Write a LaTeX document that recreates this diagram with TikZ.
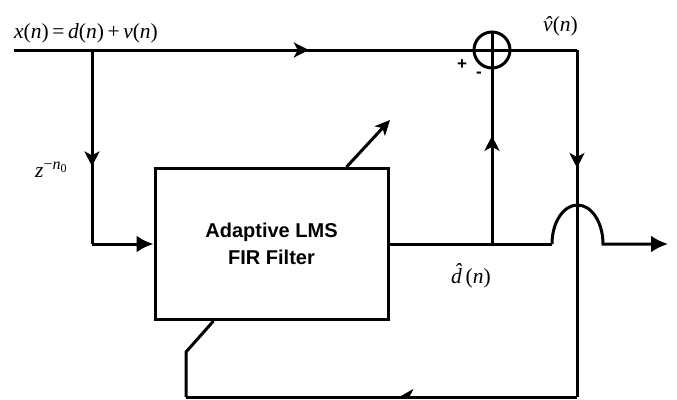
\documentclass[tikz,border=0pt]{standalone}
\usepackage{fontspec}
\setmainfont{Liberation Serif}
\newfontfamily\sansb{Liberation Sans}
\usetikzlibrary{arrows.meta,decorations.markings,calc}
\newcommand\ihat[3]{\ooalign{\textit{#1}\cr\hidewidth\kern#3\raisebox{#2}{\textit{ˆ}}\hidewidth\cr}}
\begin{document}
\begin{tikzpicture}[x=1pt,y=1pt,
  wire/.style={line width=3pt},
  midarr/.style={postaction={decorate,decoration={markings,
     mark=at position #1 with {\arrow{Stealth[length=15pt,width=15pt,inset=4pt]}}}}},
  harp/.style={postaction={decorate,decoration={markings,
     mark=at position #1 with {\arrow{Stealth[length=14pt,width=16pt,inset=4pt,harpoon,swap]}}}}},
  endarr/.style={-{Latex[length=17pt,width=17pt]}},
  lbl/.style={inner sep=0pt, font=\fontsize{21.5}{21.5}\selectfont},
  pm/.style={inner sep=0pt, font=\sansb\bfseries\fontsize{17}{17}\selectfont}
]
\useasboundingbox (0,0) rectangle (677,-399);

\node[draw, line width=3pt, minimum width=233pt, minimum height=151pt, inner sep=0pt,
      font=\sansb\bfseries\fontsize{20}{27}\selectfont, align=center] (box) at (271.5,-244) {Adaptive LMS\\FIR Filter};
\node[circle, draw, line width=3pt, minimum size=36pt, inner sep=0pt] (sum) at (492,-50) {};

\coordinate (xin) at (14,-50);
\coordinate (br) at (92,-50);
\coordinate (bl) at (92,-244);
\coordinate (J) at (492,-244);
\coordinate (a1) at (552,-244);
\coordinate (out) at (668,-244);
\coordinate (tr) at (577,-50);
\coordinate (brc) at (577,-397);
\coordinate (blc) at (186,-397);
\coordinate (sw) at (186,-352);
\coordinate (swe) at ($(box.south west)+(60,0)$);
\coordinate (ads) at ($(box.north west)+(193,0)$);
\coordinate (adj) at (390,-120);

\draw[wire, midarr=0.643] (xin) -- (sum.west);
\draw[wire] (sum.west) -- (sum.east) (sum.north) -- (sum.south);
\draw[wire] (sum.east) -- (tr);
\draw[wire, midarr=0.34] (tr) -- (brc);
\draw[wire, harp=0.46] (brc) -- (blc);
\draw[wire] (blc) -- (sw) -- (swe);
\draw[wire, midarr=0.6] (br) -- (bl);
\draw[wire, endarr] (bl) -- (box.west);
\draw[wire] (box.east) -- (J) -- (a1);
\draw[wire, endarr] (a1) arc[start angle=180, end angle=0, x radius=25.5, y radius=39] -- (out);
\draw[wire, midarr=0.62] (J) -- (sum.south);
\draw[wire, -{Stealth[length=15pt,width=14pt,inset=4pt]}] (ads) -- (adj);

\node[lbl, anchor=base west] (lx) at (14,-38) {\textit{x}(\textit{n})\,=\,\textit{d}(\textit{n})\,+\,\textit{v}(\textit{n})};
\node[lbl, anchor=base west] (lz) at (35,-177) {\textit{z}\raisebox{8pt}{\fontsize{16}{16}\selectfont −\textit{n}\raisebox{-3.5pt}{\fontsize{12}{12}\selectfont 0}}};
\node[lbl, anchor=base west] (lv) at (543,-31) {\ihat{v}{0pt}{1pt}(\textit{n})};
\node[lbl, anchor=base west] (ld) at (451,-283) {\ihat{d}{5pt}{3pt}\,(\textit{n})};
\node[pm] (lp) at (462,-64.5) {+};
\node[pm] (lm) at (479,-75) {-};
\end{tikzpicture}
\end{document}
